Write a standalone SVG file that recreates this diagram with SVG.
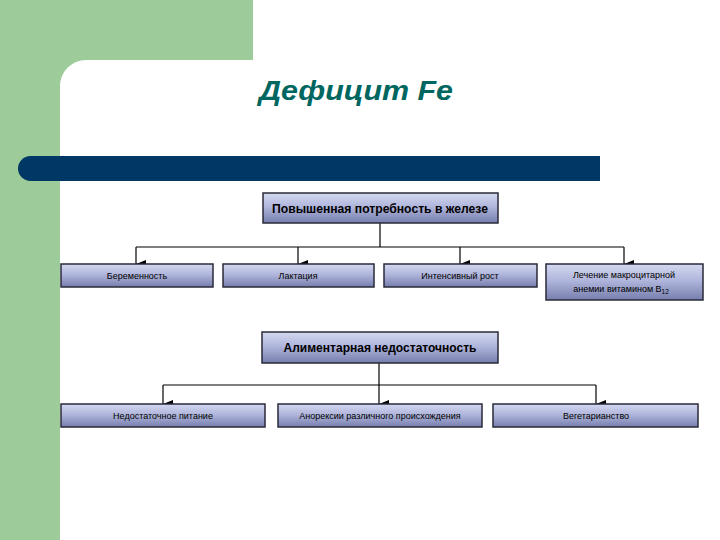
<svg xmlns="http://www.w3.org/2000/svg" width="720" height="540" viewBox="0 0 720 540">
<defs>
<linearGradient id="g" x1="0" y1="0" x2="0" y2="1">
<stop offset="0" stop-color="#d4d8f0"/>
<stop offset="0.45" stop-color="#b0b6dc"/>
<stop offset="1" stop-color="#767ead"/>
</linearGradient>
<marker id="a" viewBox="0 0 8 10" refX="4" refY="10" markerWidth="8" markerHeight="10" markerUnits="userSpaceOnUse" orient="auto-start-reverse">
<path d="M0,0 L8,0 L4,10 Z" fill="#000"/>
</marker>
</defs>
<style>
.box{fill:url(#g);stroke:#2a2a3a;stroke-width:1.5}
.hd{font-family:"Liberation Sans",Arial,sans-serif;font-weight:bold;font-size:12.5px;fill:#000;text-anchor:middle}
.lb{font-family:"Liberation Sans",Arial,sans-serif;font-size:9px;fill:#000;text-anchor:middle}
.ln{stroke:#000;stroke-width:1.2;fill:none}
</style>
<rect width="720" height="540" fill="#fff"/>
<rect x="0" y="0" width="253" height="60" fill="#9dcb99"/>
<rect x="0" y="0" width="60" height="540" fill="#9dcb99"/>
<path d="M60,60 L86,60 A26,26 0 0 0 60,86 Z" fill="#9dcb99"/>
<path d="M30.5,156 L600,156 L600,181 L30.5,181 A12.5,12.5 0 0 1 30.5,156 Z" fill="#003865"/>
<text x="356" y="100" font-family="Liberation Sans,Arial,sans-serif" font-weight="bold" font-style="italic" font-size="27" fill="#006660" text-anchor="middle" textLength="194" lengthAdjust="spacingAndGlyphs">Дефицит Fe</text>
<g id="connectors">
<path class="ln" d="M380,223 V247"/>
<path class="ln" d="M136,247 H624"/>
<path class="ln" d="M136,247 V264" marker-end="url(#a)"/>
<path class="ln" d="M298,247 V264" marker-end="url(#a)"/>
<path class="ln" d="M460,247 V264" marker-end="url(#a)"/>
<path class="ln" d="M624,247 V264" marker-end="url(#a)"/>
<path class="ln" d="M379,363 V404" marker-end="url(#a)"/>
<path class="ln" d="M163,385 H596"/>
<path class="ln" d="M163,385 V404" marker-end="url(#a)"/>
<path class="ln" d="M596,385 V404" marker-end="url(#a)"/>
</g>
<g id="n1"><rect class="box" x="263" y="193" width="235" height="30"/><text class="hd" x="380" y="212.5" textLength="216" lengthAdjust="spacingAndGlyphs">Повышенная потребность в железе</text></g>
<g id="n2"><rect class="box" x="61" y="264" width="152" height="23"/><text class="lb" x="137" y="278.5">Беременность</text></g>
<g id="n3"><rect class="box" x="223" y="264" width="151" height="23"/><text class="lb" x="298" y="278.5">Лактация</text></g>
<g id="n4"><rect class="box" x="384" y="264" width="153" height="23"/><text class="lb" x="460" y="278.5">Интенсивный рост</text></g>
<g id="n5"><rect class="box" x="546" y="264" width="157" height="36"/><text class="lb" x="624" y="277.5">Лечение макроцитарной</text><text class="lb" x="621" y="292">анемии витамином B<tspan font-size="6.5" dy="2">12</tspan></text></g>
<g id="n6"><rect class="box" x="262" y="332" width="236" height="31"/><text class="hd" x="380" y="352" textLength="193" lengthAdjust="spacingAndGlyphs">Алиментарная недостаточность</text></g>
<g id="n7"><rect class="box" x="61" y="404" width="204" height="23"/><text class="lb" x="163" y="418.5">Недостаточное питание</text></g>
<g id="n8"><rect class="box" x="278" y="404" width="204" height="23"/><text class="lb" x="380" y="418.5">Анорексии различного происхождения</text></g>
<g id="n9"><rect class="box" x="493" y="404" width="205" height="23"/><text class="lb" x="596" y="418.5">Вегетарианство</text></g>
</svg>
